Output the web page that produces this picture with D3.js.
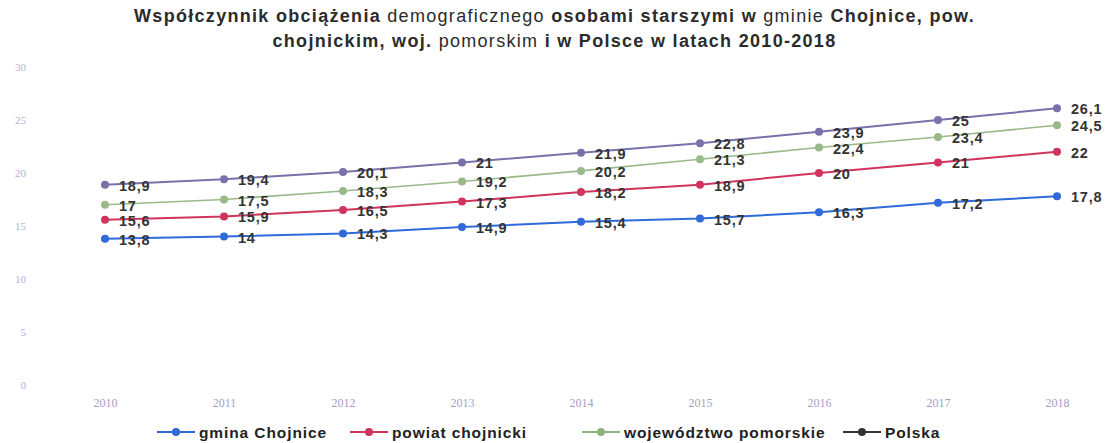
<!DOCTYPE html>
<html>
<head>
<meta charset="utf-8">
<script src="https://cdn.jsdelivr.net/npm/d3@7"></script>
<style>
  body { margin: 0; background: #fff; }
  text { font-family: "Liberation Sans", Arial, sans-serif; }
</style>
</head>
<body>
<svg id="chart"></svg>
<script>
// years along x axis
const years = ["2010", "2011", "2012", "2013", "2014", "2015", "2016", "2017", "2018"];
const yTicks = [0, 5, 10, 15, 20, 25, 30];

// series values
const gmina = [13.8, 14, 14.3, 14.9, 15.4, 15.7, 16.3, 17.2, 17.8];
const powiat = [15.6, 15.9, 16.5, 17.3, 18.2, 18.9, 20, 21, 22];
const wojewodztwo = [17, 17.5, 18.3, 19.2, 20.2, 21.3, 22.4, 23.4, 24.5];
const polska = [18.9, 19.4, 20.1, 21, 21.9, 22.8, 23.9, 25, 26.1];

const seriesNames = ["gmina Chojnice", "powiat chojnicki", "województwo pomorskie", "Polska"];
const seriesColors = ["#2f6ad8", "#d0345c", "#9ab98a", "#7a70aa"];
const legendColors = ["#2f6ad8", "#d0345c", "#8fb07f", "#333333"];

const series = [gmina, powiat, wojewodztwo, polska].map((vals, i) => ({
    name: seriesNames[i],
    color: seriesColors[i],
    width: i === 2 ? 1.6 : 2,
    values: vals
}));

const w = 1109, h = 443;
const margin = { top: 67, right: 52, bottom: 58, left: 105 };

const svg = d3.select("#chart").attr("width", w).attr("height", h);

const xScale = d3.scalePoint()
    .domain(years)
    .range([margin.left, w - margin.right]);

const yScale = d3.scaleLinear()
    .domain([0, 30])
    .range([h - margin.bottom, margin.top]);

// title, mixed weights like the original
const titleLines = [
    [["Współczynnik obciążenia ", 700], ["demograficznego ", 400], ["osobami starszymi w ", 700], ["gminie ", 400], ["Chojnice, pow.", 700]],
    [["chojnickim, woj. ", 700], ["pomorskim ", 400], ["i w Polsce w latach 2010-2018", 700]]
];
titleLines.forEach((parts, i) => {
    const t = svg.append("text")
        .attr("x", w / 2)
        .attr("y", 22 + i * 25)
        .attr("text-anchor", "middle")
        .style("font-size", "18px")
        .style("letter-spacing", "1.3px")
        .style("fill", "#2b2b2b");
    parts.forEach(p => t.append("tspan").style("font-weight", p[1]).text(p[0]));
});

// y axis labels (no lines)
const yAxis = g => g
    .attr("transform", `translate(29,0)`)
    .call(d3.axisLeft(yScale).tickValues(yTicks).tickSize(0))
    .call(g => g.selectAll(".domain").remove())
    .call(g => g.selectAll("text")
        .style("font-family", "'Liberation Serif', serif")
        .style("font-size", "11px")
        .style("fill", "#b9aed6"));
svg.append("g").call(yAxis);

// x axis labels
const xAxis = g => g
    .attr("transform", `translate(0,${h - margin.bottom + 10})`)
    .call(d3.axisBottom(xScale).tickSize(0))
    .call(g => g.selectAll(".domain").remove())
    .call(g => g.selectAll("text")
        .style("font-family", "'Liberation Serif', serif")
        .style("font-size", "12px")
        .style("fill", "#a99ccc"));
svg.append("g").call(xAxis);

const line = d3.line()
    .x((d, i) => xScale(years[i]))
    .y(d => yScale(d));

const groups = svg.append("g")
    .selectAll("g")
    .data(series)
    .join("g");

groups.append("path")
    .attr("d", d => line(d.values))
    .attr("fill", "none")
    .attr("stroke", d => d.color)
    .attr("stroke-width", d => d.width);

groups.selectAll("circle")
    .data(d => d.values.map((v, i) => ({ v, i, color: d.color })))
    .join("circle")
    .attr("cx", d => xScale(years[d.i]))
    .attr("cy", d => yScale(d.v))
    .attr("r", 4)
    .attr("fill", d => d.color);

groups.selectAll("text.val")
    .data(d => d.values.map((v, i) => ({ v, i })))
    .join("text")
    .attr("class", "val")
    .attr("x", d => xScale(years[d.i]) + 14)
    .attr("y", d => yScale(d.v) + 6)
    .style("font-size", "14.5px")
    .style("font-weight", 700)
    .style("letter-spacing", "0.8px")
    .style("fill", "#333")
    .text(d => String(d.v).replace(".", ","));

// legend
const legendX = [157, 350, 582, 843];
const legend = svg.append("g")
    .selectAll("g")
    .data(series)
    .join("g")
    .attr("transform", (d, i) => `translate(${legendX[i]},432)`);

legend.append("line")
    .attr("x1", 0).attr("x2", 38)
    .attr("stroke", (d, i) => legendColors[i])
    .attr("stroke-width", 2);
legend.append("circle")
    .attr("cx", 19).attr("r", 4)
    .attr("fill", (d, i) => legendColors[i]);
legend.append("text")
    .attr("x", 42)
    .attr("y", 6)
    .style("font-size", "15.5px")
    .style("font-weight", 700)
    .style("letter-spacing", "0.9px")
    .style("fill", "#222")
    .text(d => d.name);
</script>
</body>
</html>
